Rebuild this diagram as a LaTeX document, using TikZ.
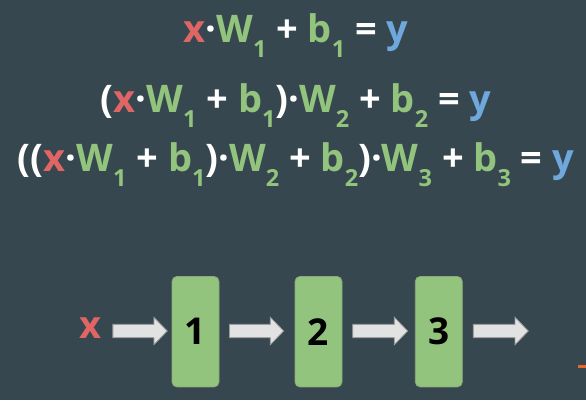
\documentclass[tikz,border=0pt]{standalone}
\usepackage{fontspec}
\setmainfont{Open Sans}
\usetikzlibrary{calc}
\definecolor{bgc}{HTML}{37474F}
\definecolor{xred}{HTML}{E06666}
\definecolor{eqgreen}{HTML}{93C47D}
\definecolor{yblue}{HTML}{6FA8DC}
\definecolor{boxgreen}{HTML}{93C47D}
\definecolor{boxedge}{HTML}{8AA97C}
\definecolor{arrowfill}{HTML}{E2E2E2}
\definecolor{arrowedge}{HTML}{9A9A9A}
\definecolor{markorange}{HTML}{E8672F}
\newcommand\VX{\textcolor{xred}{x}}
\newcommand\VY{\textcolor{yblue}{y}}
\newcommand\VG[1]{\textcolor{eqgreen}{#1}}
\newcommand\VS[1]{\raisebox{-15pt}{\fontsize{23.5}{24}\selectfont\textcolor{eqgreen}{#1}}}
\newcommand\blockarrow[2]{%
  \draw[blockarr] ($(#1)+(0,-6.65)$) -- ($(#2)+(-13.3,-6.65)$) -- ($(#2)+(-13.3,-13.7)$)
    -- (#2) -- ($(#2)+(-13.3,13.7)$) -- ($(#2)+(-13.3,6.65)$) -- ($(#1)+(0,6.65)$) -- cycle;}
\tikzset{
  eqline/.style={anchor=base, inner sep=0pt, text=white, font=\fontsize{38}{42}\selectfont\bfseries},
  layerbox/.style={draw=boxedge, line width=0.8pt, fill=boxgreen, rounded corners=5pt,
    minimum width=47pt, minimum height=110.5pt, inner sep=0pt,
    font=\fontsize{37}{40}\selectfont\bfseries, text=black},
  inlabel/.style={inner sep=0pt, text=xred, font=\fontsize{38}{40}\selectfont\bfseries},
  blockarr/.style={fill=arrowfill, draw=arrowedge, line width=0.8pt, line join=miter},
}
\begin{document}
\begin{tikzpicture}[x=1pt,y=-1pt]
\fill[bgc] (0,0) rectangle (586,400);
\useasboundingbox (0,0) rectangle (586,400);

\node[eqline] (eq1) at (296,42.5) {\VX·\VG{W}\VS{1} + \VG{b}\VS{1} = \VY};
\node[eqline] (eq2) at (296,112) {(\VX·\VG{W}\VS{1} + \VG{b}\VS{1})·\VG{W}\VS{2} + \VG{b}\VS{2} = \VY};
\node[eqline] (eq3) at (296,171) {((\VX·\VG{W}\VS{1} + \VG{b}\VS{1})·\VG{W}\VS{2} + \VG{b}\VS{2})·\VG{W}\VS{3} + \VG{b}\VS{3} = \VY};

\node[inlabel] (xin) at (90.7,328) {x};
\node[layerbox] (l1) at (195.5,331.7) {1};
\node[layerbox] (l2) at (318.5,331.7) {2};
\node[layerbox] (l3) at (438.8,331.7) {3};
\coordinate (out) at (528.3,331);

\coordinate (a1s) at ($(xin.east |- 0,331)+(11,0)$);
\coordinate (a1e) at ($(l1.west |- 0,331)+(-4.4,0)$);
\coordinate (a2s) at ($(l1.east |- 0,331)+(10,0)$);
\coordinate (a2e) at ($(l2.west |- 0,331)+(-11,0)$);
\coordinate (a3s) at ($(l2.east |- 0,331)+(10.3,0)$);
\coordinate (a3e) at ($(l3.west |- 0,331)+(-7.3,0)$);
\coordinate (a4s) at ($(l3.east |- 0,331)+(10.6,0)$);

\blockarrow{a1s}{a1e}
\blockarrow{a2s}{a2e}
\blockarrow{a3s}{a3e}
\blockarrow{a4s}{out}

\fill[markorange] (578,365) rectangle (586,368);
\end{tikzpicture}
\end{document}
